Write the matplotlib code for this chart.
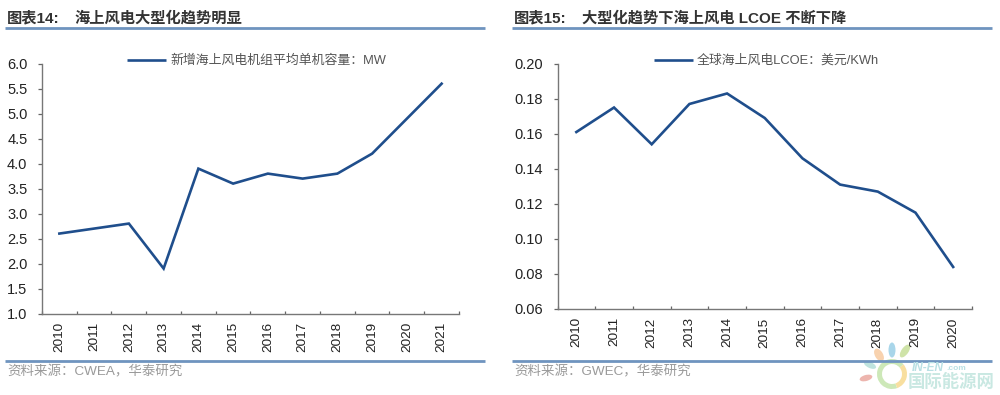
import matplotlib
matplotlib.use('Agg')
import matplotlib.pyplot as plt
from matplotlib.patches import Ellipse, Wedge

plt.rcParams['font.family'] = ['Liberation Sans', 'Noto Sans CJK SC', 'DejaVu Sans']

years_left = ['2010','2011','2012','2013','2014','2015','2016','2017','2018','2019','2020','2021']
capacity_mw = [2.6, 2.7, 2.8, 1.9, 3.9, 3.6, 3.8, 3.7, 3.8, 4.2, 4.9, 5.6]
yticks_left = [1.0, 1.5, 2.0, 2.5, 3.0, 3.5, 4.0, 4.5, 5.0, 5.5, 6.0]

years_right = ['2010','2011','2012','2013','2014','2015','2016','2017','2018','2019','2020']
lcoe = [0.161, 0.175, 0.154, 0.177, 0.183, 0.169, 0.146, 0.131, 0.127, 0.115, 0.084]
yticks_right = [0.06, 0.08, 0.10, 0.12, 0.14, 0.16, 0.18, 0.20]

label_left = '图表14:'
title_left = '海上风电大型化趋势明显'
label_right = '图表15:'
title_right = '大型化趋势下海上风电 LCOE 不断下降'
legend_left = '新增海上风电机组平均单机容量：MW'
legend_right = '全球海上风电LCOE：美元/KWh'
source_left = '资料来源：CWEA，华泰研究'
source_right = '资料来源：GWEC，华泰研究'

W, H = 1000, 395
NAVY = '#1F4E8C'
RULE = '#6F94BF'
fig = plt.figure(figsize=(W/100, H/100), dpi=100)
bg = fig.add_axes([0, 0, 1, 1])
bg.set_xlim(0, W); bg.set_ylim(H, 0); bg.axis('off')

def panel(x0, x1, ytop, ybot, cats, vals, yt, fmt, rule0, rule1, label, title, titlex, src, leg, legx):
    ax = fig.add_axes([x0/W, 1-ybot/H, (x1-x0)/W, (ybot-ytop)/H])
    ax.patch.set_alpha(0)
    ax.plot(range(len(cats)), vals, color=NAVY, lw=1.9, solid_joinstyle='miter')
    ax.set_xlim(-0.5, len(cats)-0.5)
    ax.set_ylim(yt[0], yt[-1])
    ax.set_yticks(yt)
    ax.set_yticklabels([fmt % v for v in yt], fontsize=10.5, color='#222222')
    ax.set_xticks([i-0.5 for i in range(len(cats)+1)])
    ax.set_xticklabels([])
    ax.tick_params(axis='x', length=2.5, width=0.9, color='#666666', direction='in')
    ax.tick_params(axis='y', length=3, width=0.9, color='#666666', pad=7.5)
    for s in ['top', 'right']:
        ax.spines[s].set_visible(False)
    for s in ['left', 'bottom']:
        ax.spines[s].set_color('#777777')
        ax.spines[s].set_linewidth(1.0)
    for i, c in enumerate(cats):
        ax.annotate(c, (i, 0), xycoords=('data', 'axes fraction'), xytext=(0, -6),
                    textcoords='offset points', rotation=90, ha='center', va='top',
                    fontsize=9.7, color='#222222')
    bg.plot([rule0, rule1], [28, 28], color=RULE, lw=2.0, solid_capstyle='butt')
    bg.plot([rule0, rule1], [361, 361], color=RULE, lw=2.0, solid_capstyle='butt')
    bg.text(rule0+2, 18, label, fontsize=11, fontweight='bold', color='#333333', va='center', ha='left')
    bg.text(titlex, 18, title, fontsize=11, fontweight='bold', color='#333333', va='center', ha='left')
    bg.text(rule0+2, 372, src, fontsize=9.7, color='#9A9A9A', va='center', ha='left')
    bg.plot([legx, legx+39], [60, 60], color=NAVY, lw=1.9, solid_capstyle='butt')
    bg.text(legx+43, 61, leg, fontsize=9.3, color='#555555', va='center', ha='left')

panel(42, 459, 63.7, 313.5, years_left, capacity_mw, yticks_left, '%.1f', 5, 485,
      label_left, title_left, 74, source_left, legend_left, 127)
panel(557.5, 972, 63.7, 309, years_right, lcoe, yticks_right, '%.2f', 512, 992,
      label_right, title_right, 582, source_right, legend_right, 654)

# watermark logo
for cx, cy, w, h, ang, col in [(892, 350, 7, 15, 0, '#A9D6EA'), (905, 351, 7, 15, 35, '#CFE3A8'),
                               (879, 355, 8, 14, -30, '#F8D2AE'), (870, 365, 13, 6, 25, '#BFE3DE'),
                               (866, 378, 13, 6, -15, '#EDB5AE')]:
    bg.add_patch(Ellipse((cx, cy), w, h, angle=ang, color=col, lw=0))
bg.add_patch(Wedge((892, 374), 15, 70, 320, width=5, color='#CDE8B8', lw=0))
bg.add_patch(Wedge((892, 374), 15, -40, 70, width=5, color='#F8DFA0', lw=0))
bg.text(912, 368, 'IN-EN', fontsize=8.5, fontweight='bold', style='italic', color='#B9E0E4', va='center')
bg.text(946, 369, '.com', fontsize=6, fontweight='bold', color='#B9E0E4', va='center')
bg.text(908, 381, '国际能源网', fontsize=12.5, fontweight='bold', color='#C9E8E2', va='center')

fig.savefig('out.png', dpi=100, facecolor='white')
